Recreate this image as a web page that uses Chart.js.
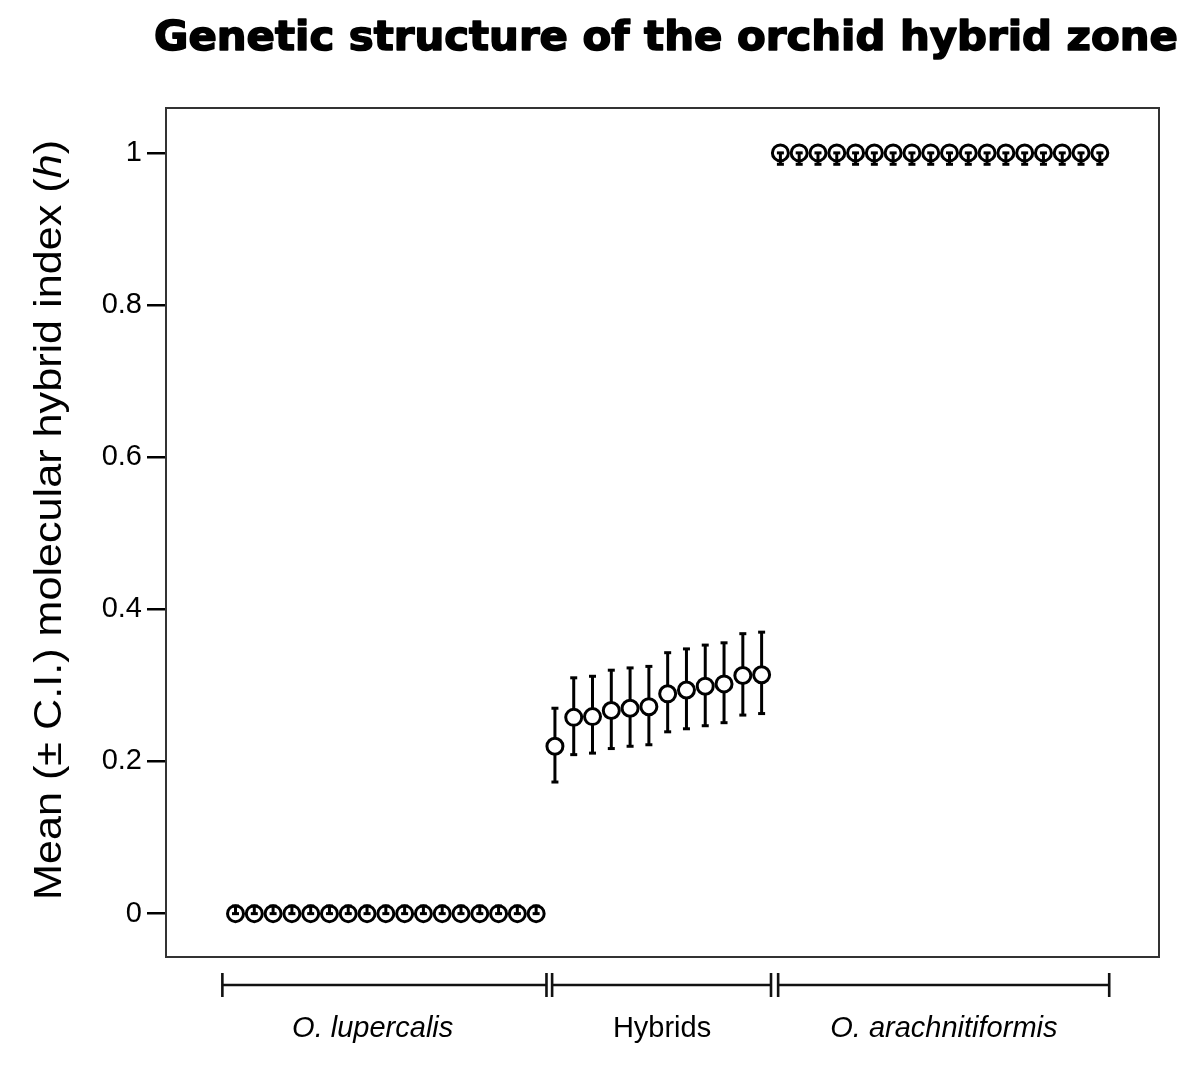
<!DOCTYPE html>
<html>
<head>
<meta charset="utf-8">
<script src="https://cdn.jsdelivr.net/npm/chart.js@4.4.1/dist/chart.umd.min.js"></script>
<style>
	html, body { margin: 0; padding: 0; background: #fff; }
	#wrap { width: 1200px; height: 1071px; position: relative; }
</style>
</head>
<body>
<div id="wrap"><canvas id="hybridChart"></canvas></div>
<script>
// values
const groupNames = ['O. lupercalis', 'Hybrids', 'O. arachnitiformis'];
const groupItalic = [true, false, true];

const lupercalisMean = [0, 0, 0, 0, 0, 0, 0, 0, 0, 0, 0, 0, 0, 0, 0, 0, 0];
const lupercalisLow = [0, 0, 0, 0, 0, 0, 0, 0, 0, 0, 0, 0, 0, 0, 0, 0, 0];
const lupercalisHigh = [0.01, 0.01, 0.01, 0.01, 0.01, 0.01, 0.01, 0.01, 0.01, 0.01, 0.01, 0.01, 0.01, 0.01, 0.01, 0.01, 0.01];

const hybridMean = [0.220, 0.258, 0.259, 0.267, 0.270, 0.272, 0.289, 0.294, 0.299, 0.302, 0.313, 0.314];
const hybridLow = [0.173, 0.209, 0.211, 0.217, 0.220, 0.222, 0.239, 0.243, 0.247, 0.251, 0.261, 0.263];
const hybridHigh = [0.270, 0.310, 0.312, 0.320, 0.323, 0.325, 0.343, 0.348, 0.353, 0.356, 0.368, 0.370];

const arachMean = [1, 1, 1, 1, 1, 1, 1, 1, 1, 1, 1, 1, 1, 1, 1, 1, 1, 1];
const arachLow = [0.985, 0.985, 0.985, 0.985, 0.985, 0.985, 0.985, 0.985, 0.985, 0.985, 0.985, 0.985, 0.985, 0.985, 0.985, 0.985, 0.985, 0.985];
const arachHigh = [1, 1, 1, 1, 1, 1, 1, 1, 1, 1, 1, 1, 1, 1, 1, 1, 1, 1];

const yTicks = [0, 0.2, 0.4, 0.6, 0.8, 1];
const yTickLabels = ['0', '0.2', '0.4', '0.6', '0.8', '1'];

// bracket spans under the plot, in sample-index units
const groupFrom = [0.3, 17.85, 29.88];
const groupTo = [17.55, 29.5, 47.5];
const groupLabelAt = [8.3, 23.7, 38.7];

const titleText = 'Genetic structure of the orchid hybrid zone';

// samples are numbered one after another across the three groups
function buildPoints(means, lows, highs, startIdx) {
	return means.map(function(m, i) {
		return { x: startIdx + i, y: m, lo: lows[i], hi: highs[i] };
	});
}
const lupPts = buildPoints(lupercalisMean, lupercalisLow, lupercalisHigh, 1);
const hybPts = buildPoints(hybridMean, hybridLow, hybridHigh, 1 + lupPts.length);
const araPts = buildPoints(arachMean, arachLow, arachHigh, 1 + lupPts.length + hybPts.length);

const POINT_R = 8;

function dataset(pts) {
	return {
		data: pts,
		showLine: false,
		pointStyle: 'circle',
		pointRadius: POINT_R,
		pointBorderWidth: 3,
		pointBorderColor: '#000',
		pointBackgroundColor: 'rgba(0,0,0,0)'
	};
}

// error bars; long ones stop at the circle, short ones start at the centre
const errorBars = {
	id: 'errorBars',
	afterDatasetsDraw(chart) {
		const ctx = chart.ctx;
		const xs = chart.scales.x, ys = chart.scales.y;
		ctx.save();
		ctx.strokeStyle = '#000';
		ctx.lineWidth = 3;
		ctx.lineCap = 'butt';
		chart.data.datasets.forEach(function(ds) {
			ds.data.forEach(function(p) {
				const px = xs.getPixelForValue(p.x);
				const pm = ys.getPixelForValue(p.y);
				[p.lo, p.hi].forEach(function(b) {
					const pb = ys.getPixelForValue(b);
					const dir = pb > pm ? 1 : -1;
					const start = Math.abs(pb - pm) > POINT_R * 3 ? pm + dir * POINT_R : pm;
					ctx.beginPath();
					ctx.moveTo(px, start);
					ctx.lineTo(px, pb);
					ctx.stroke();
					ctx.beginPath();
					ctx.moveTo(px - 3.5, pb);
					ctx.lineTo(px + 3.5, pb);
					ctx.stroke();
				});
			});
		});
		ctx.restore();
	}
};

// frame, title, axis title and the group brackets
const decorations = {
	id: 'decorations',
	afterDraw(chart) {
		const ctx = chart.ctx;
		const area = chart.chartArea;
		const xs = chart.scales.x;
		ctx.save();

		ctx.strokeStyle = '#333';
		ctx.lineWidth = 2;
		ctx.strokeRect(area.left, area.top, area.right - area.left, area.bottom - area.top);

		// title
		ctx.fillStyle = '#000';
		ctx.strokeStyle = '#000';
		ctx.font = 'bold 41px "DejaVu Sans", sans-serif';
		ctx.textAlign = 'center';
		ctx.textBaseline = 'alphabetic';
		let w = ctx.measureText(titleText).width;
		ctx.save();
		ctx.translate(666, 50);
		ctx.scale(1024 / w, 1);
		ctx.lineWidth = 1.6;
		ctx.lineJoin = 'round';
		ctx.strokeText(titleText, 0, 0);
		ctx.fillText(titleText, 0, 0);
		ctx.restore();

		// rotated y title with italic h
		const partA = 'Mean (\u00b1 C.I.) molecular hybrid index (';
		const partB = 'h';
		const partC = ')';
		const fUp = '38px "Liberation Sans", Arial, sans-serif';
		const fIt = 'italic 38px "Liberation Sans", Arial, sans-serif';
		ctx.font = fUp;
		const wA = ctx.measureText(partA).width;
		const wC = ctx.measureText(partC).width;
		ctx.font = fIt;
		const wB = ctx.measureText(partB).width;
		const total = wA + wB + wC;
		ctx.save();
		ctx.translate(61, 520);
		ctx.rotate(-Math.PI / 2);
		ctx.scale(760 / total, 1);
		ctx.textAlign = 'left';
		let cx = -total / 2;
		ctx.font = fUp; ctx.fillText(partA, cx, 0); cx += wA;
		ctx.font = fIt; ctx.fillText(partB, cx, 0); cx += wB;
		ctx.font = fUp; ctx.fillText(partC, cx, 0);
		ctx.restore();

		// group brackets
		const by = area.bottom + 28;
		ctx.strokeStyle = '#111';
		ctx.lineWidth = 2.6;
		groupNames.forEach(function(name, i) {
			const x1 = xs.getPixelForValue(groupFrom[i]);
			const x2 = xs.getPixelForValue(groupTo[i]);
			ctx.beginPath();
			ctx.moveTo(x1, by); ctx.lineTo(x2, by);
			ctx.moveTo(x1, by - 12); ctx.lineTo(x1, by + 12);
			ctx.moveTo(x2, by - 12); ctx.lineTo(x2, by + 12);
			ctx.stroke();
			ctx.font = (groupItalic[i] ? 'italic ' : '') + '29px "Liberation Sans", Arial, sans-serif';
			ctx.textAlign = 'center';
			ctx.fillStyle = '#000';
			ctx.fillText(name, xs.getPixelForValue(groupLabelAt[i]), by + 52);
		});
		ctx.restore();
	}
};

const chart = new Chart($id('hybridChart'), {
	type: 'scatter',
	data: { datasets: [dataset(lupPts), dataset(hybPts), dataset(araPts)] },
	options: {
		responsive: true,
		maintainAspectRatio: false,
		animation: false,
		events: [],
		layout: { padding: { left: 0, top: 108, right: 41, bottom: 114 } },
		plugins: { legend: { display: false }, tooltip: { enabled: false }, title: { display: false } },
		scales: {
			x: { type: 'linear', min: -2.7, max: 50.15, display: false },
			y: {
				type: 'linear',
				min: -0.057,
				max: 1.059,
				afterBuildTicks: function(axis) {
					axis.ticks = yTicks.map(function(v) { return { value: v }; });
				},
				afterFit: function(axis) { axis.width = 166; },
				ticks: {
					padding: 5,
					color: '#000',
					font: { family: '"Liberation Sans", Arial, sans-serif', size: 29 },
					callback: function(v) {
						const i = yTicks.indexOf(v);
						return i >= 0 ? yTickLabels[i] : '';
					}
				},
				border: { display: false },
				grid: { drawOnChartArea: false, drawTicks: true, tickLength: 19, color: '#000', lineWidth: 2.5 }
			}
		}
	},
	plugins: [errorBars, decorations]
});

function $id(id) { return document.getElementById(id); }
</script>
</body>
</html>
